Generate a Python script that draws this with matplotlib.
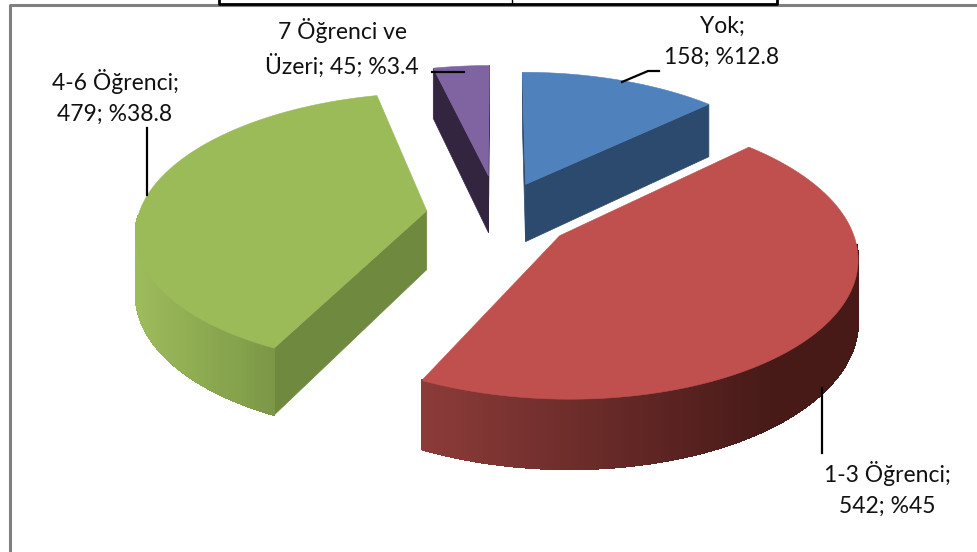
import numpy as np
import matplotlib
matplotlib.use('Agg')
import matplotlib.pyplot as plt

# Data
categories = ['Yok', '1-3 Öğrenci', '4-6 Öğrenci', '7 Öğrenci ve Üzeri']
counts = [158, 542, 479, 45]
percents = ['%12.8', '%45', '%38.8', '%3.4']

# Colours per slice
top_colors = ['#4F81BD', '#C0504D', '#9BBB59', '#8064A2']
wall_colors = ['#2C4A6E', '#4A1C1A', '#6F8A3F', '#33243F']
rim_left = ['#2C4A6E', '#8C3C39', '#9DBC5B', '#33243F']
rim_right = ['#2C4A6E', '#471A18', '#6F8A3F', '#33243F']

# Fake 3D view, in pixels
cx, cy = 498, 214.5
scale_x, scale_y = 288, 135
persp = 0.136
explode = [0.25, 0.26, 0.25, 0.3]
depth = 59


def project(u, v, drop=0.0):
    w = 1 + persp * v
    return cx + scale_x * u / w, cy - scale_y * v / w + drop / w


def mix(c1, c2, t):
    a = np.array(matplotlib.colors.to_rgb(c1))
    b = np.array(matplotlib.colors.to_rgb(c2))
    return tuple(a + (b - a) * t)


def draw_wall(ax, ox, oy, ang, color, side):
    # radial wall of a slice, skipped when it faces away from the viewer
    ex, ey = ox + np.sin(ang), oy + np.cos(ang)
    x0, y0 = project(ox, oy)
    x1, y1 = project(ex, ey)
    x2, y2 = project(ex, ey, depth)
    x3, y3 = project(ox, oy, depth)
    xs = np.array([x0, x1, x2, x3])
    ys = np.array([y0, y1, y2, y3])
    area = 0.5 * np.sum(xs * np.roll(ys, -1) - np.roll(xs, -1) * ys)
    if area * side > 0:
        ax.fill(xs, ys, color=color, lw=0.5)


plt.rcParams['font.family'] = ['Lato', 'DejaVu Sans']

fig = plt.figure(figsize=(9.77, 5.52), dpi=100)
ax = fig.add_axes([0, 0, 1, 1])
ax.set_xlim(0, 977)
ax.set_ylim(552, 0)
ax.axis('off')

total = sum(counts)
edges = np.cumsum([0] + counts) / total * 2 * np.pi

# Back slices first
for i in [3, 0, 2, 1]:
    start, end = edges[i], edges[i + 1]
    mid = (start + end) / 2
    ox, oy = explode[i] * np.sin(mid), explode[i] * np.cos(mid)

    draw_wall(ax, ox, oy, start, wall_colors[i], -1)
    draw_wall(ax, ox, oy, end, wall_colors[i], 1)

    th = np.linspace(start, end, 160)
    xs, ys = project(ox + np.sin(th), oy + np.cos(th))
    xb, yb = project(ox + np.sin(th), oy + np.cos(th), depth)

    # outer rim, front part only
    for j in range(len(th) - 1):
        if np.cos(th[j]) > -0.05:
            continue
        t = np.clip((xs[j] - xs.min()) / (xs.max() - xs.min()) * 1.25, 0, 1)
        ax.fill([xs[j], xs[j + 1], xb[j + 1], xb[j]],
                [ys[j], ys[j + 1], yb[j + 1], yb[j]],
                color=mix(rim_left[i], rim_right[i], t), lw=0.8, antialiased=False)

    ax0, ay0 = project(ox, oy)
    ax.fill(np.r_[ax0, xs], np.r_[ay0, ys], color=top_colors[i], lw=0.4)

# Labels
font = 16.5
spacing = 1.55
ax.text(722, 42, 'Yok;\n%d; %s' % (counts[0], percents[0]), ha='center', va='center',
        fontsize=font, linespacing=spacing, color='#111111')
ax.text(887, 489, '%s;\n%d; %s' % (categories[1], counts[1], percents[1]), ha='center', va='center',
        fontsize=font, linespacing=spacing, color='#111111')
ax.text(115, 97, '%s;\n%d; %s' % (categories[2], counts[2], percents[2]), ha='center', va='center',
        fontsize=font, linespacing=spacing, color='#111111')
ax.text(342, 48, '7 Öğrenci ve\nÜzeri; %d; %s' % (counts[3], percents[3]), ha='center', va='center',
        fontsize=font, linespacing=spacing, color='#111111')

# Leader lines
ax.plot([622, 648, 659], [82, 71, 71], color='black', lw=1.6)
ax.plot([822, 822], [388, 453], color='black', lw=1.6)
ax.plot([147, 147], [128, 195], color='black', lw=1.6)
ax.plot([432, 464], [72, 72], color='black', lw=1.6)

# Frame left from the page
ax.plot([9.5, 9.5, 977], [552, 5, 5], color='#808080', lw=2.2)
ax.plot([219, 219, 777, 777], [0, 3.5, 3.5, 0], color='black', lw=2)
ax.plot([512, 512], [0, 3.5], color='black', lw=1)

fig.savefig('out.png', dpi=100)
